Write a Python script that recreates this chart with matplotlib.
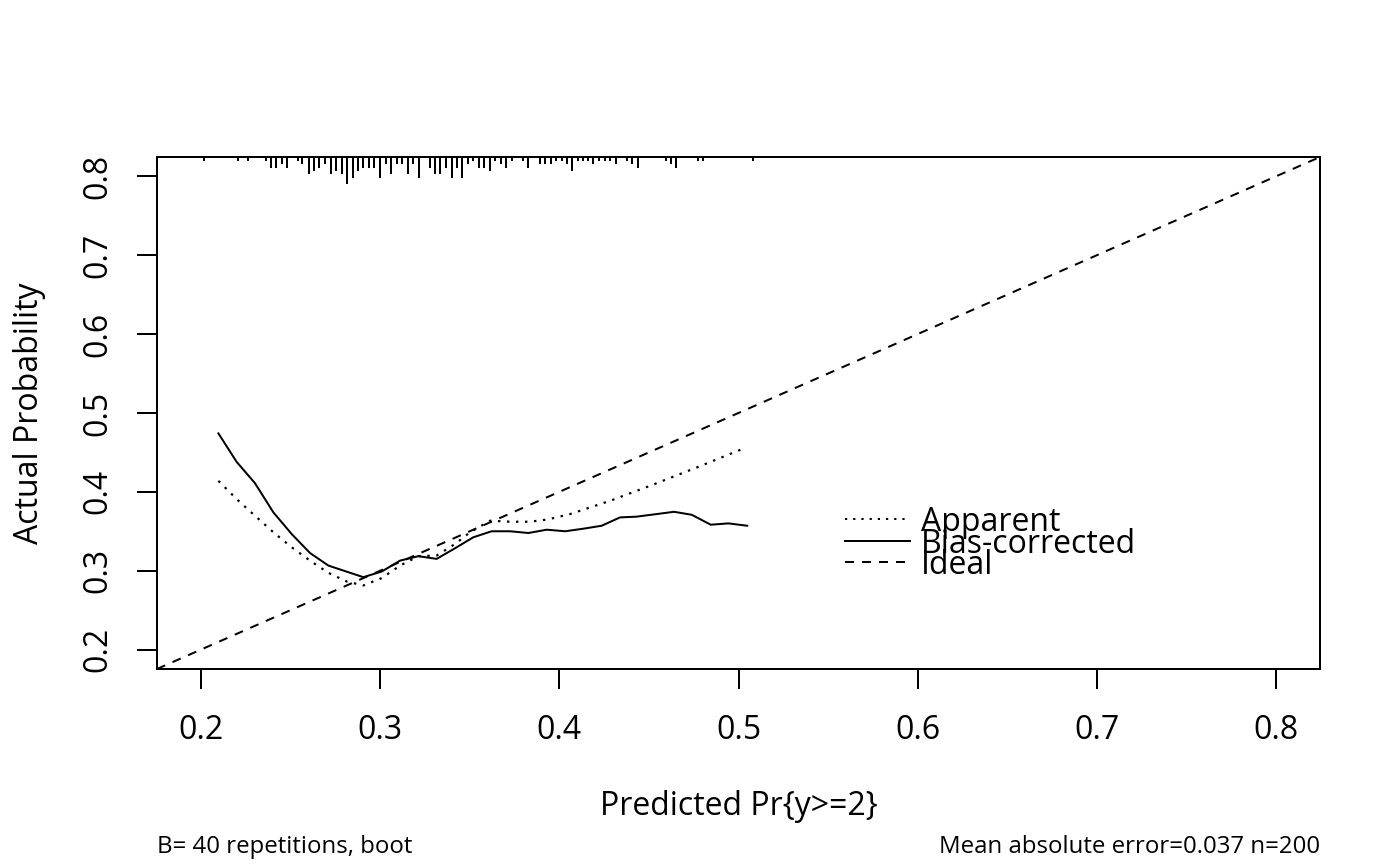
import numpy as np
import matplotlib.pyplot as plt
import matplotlib.transforms as mtransforms

plt.rcParams['font.family'] = ['Open Sans', 'DejaVu Sans']

# calibration curves
bias_x = [0.2097, 0.2199, 0.2301, 0.2404, 0.2506, 0.2608, 0.2711, 0.2906, 0.3008, 0.3111,
          0.3213, 0.3315, 0.3418, 0.3520, 0.3622, 0.3725, 0.3827, 0.3930, 0.4032, 0.4135,
          0.4236, 0.4339, 0.4430, 0.4543, 0.4640, 0.4739, 0.4845, 0.4943, 0.5049]
bias_y = [0.4741, 0.4379, 0.4110, 0.3739, 0.3465, 0.3225, 0.3065, 0.2918, 0.2989, 0.3128,
          0.3184, 0.3150, 0.3285, 0.3424, 0.3500, 0.3500, 0.3478, 0.3520, 0.3500, 0.3533,
          0.3570, 0.3676, 0.3685, 0.3718, 0.3747, 0.3709, 0.3583, 0.3600, 0.3570]

app_x = [0.2097, 0.2199, 0.2301, 0.2404, 0.2506, 0.2608, 0.2711, 0.2813, 0.2906, 0.3008,
         0.3111, 0.3213, 0.3315, 0.3418, 0.3501, 0.3613, 0.3725, 0.3836, 0.3936, 0.4060,
         0.4283, 0.4506, 0.4766, 0.5027]
app_y = [0.4139, 0.3908, 0.3697, 0.3487, 0.3297, 0.3128, 0.2973, 0.2863, 0.2813, 0.2906,
         0.3065, 0.3184, 0.3192, 0.3339, 0.3487, 0.3634, 0.3621, 0.3621, 0.3650, 0.3718,
         0.3886, 0.4076, 0.4308, 0.4548]

# rug of predicted values (position, count)
rug_x = [0.2018, 0.2205, 0.2264, 0.2361, 0.2391, 0.2417, 0.2450, 0.2478, 0.2540, 0.2565,
         0.2603, 0.2632, 0.2660, 0.2692, 0.2724, 0.2752, 0.2785, 0.2817, 0.2847, 0.2878,
         0.2906, 0.2938, 0.2967, 0.2999, 0.3031, 0.3060, 0.3096, 0.3124, 0.3154, 0.3185,
         0.3217, 0.3278, 0.3306, 0.3334, 0.3367, 0.3399, 0.3427, 0.3458, 0.3492, 0.3520,
         0.3553, 0.3581, 0.3613, 0.3641, 0.3673, 0.3702, 0.3734, 0.3796, 0.3827, 0.3892,
         0.3920, 0.3952, 0.3981, 0.4013, 0.4041, 0.4072, 0.4106, 0.4134, 0.4162, 0.4190,
         0.4221, 0.4255, 0.4283, 0.4316, 0.4376, 0.4407, 0.4437, 0.4594, 0.4623, 0.4651,
         0.4776, 0.4804, 0.5083]
rug_n = [1, 1, 1, 1, 3, 3, 2, 3, 1, 2,
         5, 4, 3, 2, 5, 4, 5, 8, 6, 4,
         3, 3, 3, 6, 2, 5, 2, 2, 5, 2,
         6, 3, 5, 5, 3, 6, 3, 6, 2, 1,
         3, 3, 4, 1, 2, 3, 1, 1, 3, 2,
         2, 2, 1, 1, 2, 4, 1, 1, 1, 2,
         1, 1, 1, 2, 1, 2, 3, 1, 2, 3,
         1, 1, 1]

ticks = [0.2, 0.3, 0.4, 0.5, 0.6, 0.7, 0.8]
legend_labels = ['Apparent', 'Bias-corrected', 'Ideal']
sub_left = 'B= 40 repetitions, boot'
sub_right = 'Mean absolute error=0.037 n=200'

lw = 1.44
fs = 23
dotted = (0, (1.1, 3))
dashed = (0, (4.5, 4))

fig = plt.figure(figsize=(14, 8.66), dpi=100)
ax = fig.add_axes([0.1121, 0.2275, 0.8307, 0.5912])
lims = (0.1754, 0.8245)
ax.set_xlim(lims)
ax.set_ylim(lims)

ax.plot(app_x, app_y, color='black', lw=lw * 1.1, linestyle=dotted)
ax.plot(bias_x, bias_y, color='black', lw=lw)
ax.axline((0, 0), slope=1, color='black', lw=lw, linestyle=dashed)

# rug along the top, tick length ~ frequency
trans = mtransforms.blended_transform_factory(ax.transData, ax.transAxes)
px_h = ax.get_position().height * fig.get_figheight() * fig.dpi
rug_len = (np.array(rug_n) * 3.33 + 0.6) / px_h
ax.vlines(rug_x, 1 - rug_len, 1, transform=trans, color='black', lw=lw)

# legend drawn R style (lines + overlapping labels)
leg_y = [0.3655, 0.3381, 0.3108]
styles = [dotted, '-', dashed]
txt_trans = mtransforms.offset_copy(ax.transData, fig=fig, x=0, y=-12, units='dots')
for yy, ls, lab in zip(leg_y, styles, legend_labels):
    ax.plot([0.5592, 0.5958], [yy, yy], color='black', lw=lw, linestyle=ls)
    ax.text(0.6016, yy, lab, transform=txt_trans, fontsize=fs, va='baseline', ha='left')

ax.set_xticks(ticks)
ax.set_yticks(ticks)
ax.set_xticklabels([f'{t:.1f}' for t in ticks])
ax.set_yticklabels([f'{t:.1f}' for t in ticks], rotation=90, va='center')
ax.tick_params(axis='both', direction='out', length=14.4, width=lw, labelsize=fs)
ax.tick_params(axis='x', pad=18)
ax.tick_params(axis='y', pad=16)
for sp in ax.spines.values():
    sp.set_linewidth(lw)

ax.set_xlabel('Predicted Pr{y>=2}', fontsize=fs, labelpad=31)
ax.set_ylabel('Actual Probability', fontsize=fs, labelpad=26)

fig.text(157 / 1400, 1 - 853 / 866, sub_left, fontsize=17.3, ha='left', va='baseline')
fig.text(1320 / 1400, 1 - 853 / 866, sub_right, fontsize=17.3, ha='right', va='baseline')

fig.savefig('out.png', dpi=100)
